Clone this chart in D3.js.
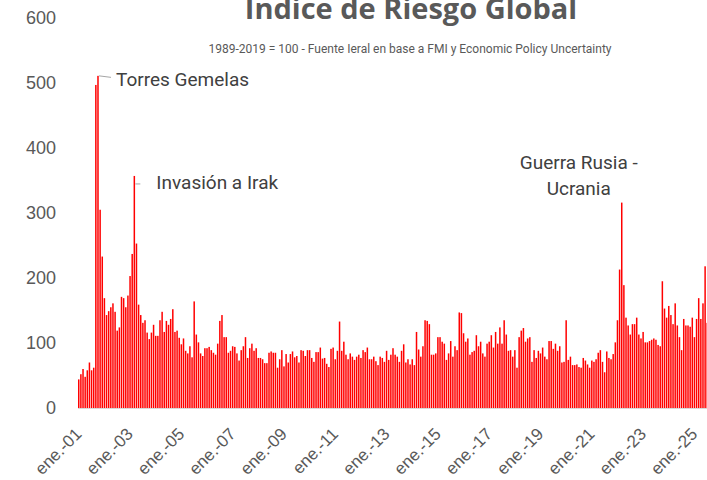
<!DOCTYPE html>
<html>
<head>
<meta charset="utf-8">
<script src="https://cdn.jsdelivr.net/npm/d3@7"></script>
<style>
body { margin: 0; background: #fff; }
svg { display: block; }
</style>
</head>
<body>
<div id="chart"></div>
<script>
// monthly index, ene.-01 onwards (1989-2019 = 100)
var riskIndex = [
  44,52,60,48,58,70,58,62,497,511,
  305,233,169,143,149,155,161,148,119,124,
  171,169,155,173,203,237,357,253,159,143,
  131,135,116,106,116,128,111,111,135,148,
  117,134,128,137,152,117,119,108,98,107,
  88,84,95,78,164,113,101,84,80,92,
  92,94,89,85,82,99,134,143,109,109,
  85,88,95,94,84,73,89,95,109,77,
  92,99,88,92,77,77,75,69,69,85,
  87,85,85,62,75,89,64,83,70,83,
  87,78,80,70,89,
  88,80,89,89,77,71,86,86,93,76,
  77,68,63,91,93,75,88,133,88,102,
  82,75,84,79,74,79,82,77,89,86,
  93,75,75,79,72,66,79,77,71,88,
  74,82,92,82,79,71,88,98,70,75,
  67,75,66,117,90,79,95,135,134,129,
  82,82,84,
  109,109,102,99,74,84,103,79,95,89,
  147,146,115,102,107,82,86,88,112,95,
  102,84,79,99,102,112,93,117,99,124,
  99,135,113,88,89,79,89,62,109,119,
  123,102,107,109,71,89,77,88,84,93,
  79,75,103,103,91,99,88,95,70,71,
  135,74,79,
  66,66,67,63,62,77,73,67,62,73,
  71,75,85,89,71,55,87,77,75,83,
  101,135,213,316,189,139,127,113,129,129,
  139,113,107,117,101,101,103,105,107,105,
  97,95,195,153,139,157,143,129,161,127,
  109,89,137,127,127,125,139,109,137,169,
  137,161,218,131
];

var tickLabels = ["ene.-01","ene.-03","ene.-05","ene.-07","ene.-09","ene.-11","ene.-13",
                  "ene.-15","ene.-17","ene.-19","ene.-21","ene.-23","ene.-25"];
var yTicks = [0, 100, 200, 300, 400, 500, 600];

// month index -> event label
var eventMonths = [9, 26, 254];
var eventLabels = [["Torres Gemelas"], ["Invasión a Irak"], ["Guerra Rusia -", "Ucrania"]];

var title = "Indice de Riesgo Global",
    subtitle = "1989-2019 = 100 - Fuente Ieral en base a FMI y Economic Policy Uncertainty";

var svg = d3.select("#chart").append("svg")
    .attr("width", 707)
    .attr("height", 480);

var x = d3.scaleBand()
    .domain(d3.range(riskIndex.length))
    .range([78, 708])
    .paddingInner(0.3)
    .paddingOuter(0);

var y = d3.scaleLinear().domain([0, 600]).range([408, 18]);

var grey = "#595959";

svg.append("text")
    .attr("x", 411).attr("y", 19)
    .attr("text-anchor", "middle")
    .attr("font-family", "'Open Sans', sans-serif")
    .attr("font-weight", "bold")
    .attr("font-size", 29)
    .attr("fill", grey)
    .text(title);

svg.append("text")
    .attr("x", 410).attr("y", 53)
    .attr("text-anchor", "middle")
    .attr("font-family", "Roboto, sans-serif")
    .attr("font-size", 12)
    .attr("fill", grey)
    .text(subtitle);

// bars
svg.append("g").selectAll("rect")
    .data(riskIndex)
  .enter().append("rect")
    .attr("x", function(d, i) { return x(i); })
    .attr("width", x.bandwidth())
    .attr("y", function(d) { return y(d); })
    .attr("height", function(d) { return y(0) - y(d); })
    .attr("fill", "#ff0000");

// base line
svg.append("line")
    .attr("x1", x.range()[0]).attr("x2", x.range()[1])
    .attr("y1", y(0) + 0.5).attr("y2", y(0) + 0.5)
    .attr("stroke", "#d9d9d9");

var xAxis = d3.axisBottom(x)
    .tickValues(d3.range(0, riskIndex.length, 24))
    .tickFormat(function(i) { return tickLabels[i / 24]; })
    .tickSize(0);

var gx = svg.append("g")
    .attr("transform", "translate(0," + y(0) + ")")
    .call(xAxis);
gx.select(".domain").remove();
gx.attr("font-family", "'Liberation Sans', Arial, sans-serif").attr("font-size", 17);
gx.selectAll("text")
    .attr("fill", grey)
    .attr("y", null).attr("dy", null)
    .attr("text-anchor", "end")
    .attr("transform", "translate(4,27) rotate(-45)");

var yAxis = d3.axisLeft(y)
    .tickValues(yTicks)
    .tickSize(0)
    .tickPadding(0);

var gy = svg.append("g")
    .attr("transform", "translate(56,0)")
    .call(yAxis);
gy.select(".domain").remove();
gy.attr("font-family", "'Liberation Sans', Arial, sans-serif").attr("font-size", 18);
gy.selectAll("text").attr("fill", grey);

// annotations
var notes = svg.append("g")
    .attr("font-family", "Roboto, sans-serif")
    .attr("font-size", 19)
    .attr("fill", "#404040");

function cx(i) { return x(i) + x.bandwidth() / 2; }

// Torres Gemelas
var t0 = eventMonths[0];
notes.append("line")
    .attr("x1", cx(t0) + 1).attr("y1", y(riskIndex[t0]))
    .attr("x2", cx(t0) + 13).attr("y2", y(riskIndex[t0]) + 1.5)
    .attr("stroke", "#a6a6a6");
notes.append("text")
    .attr("x", cx(t0) + 18).attr("y", y(riskIndex[t0]) + 10)
    .text(eventLabels[0][0]);

// Invasión a Irak
var t1 = eventMonths[1];
notes.append("line")
    .attr("x1", cx(t1) + 1).attr("y1", y(riskIndex[t1]) + 8)
    .attr("x2", cx(t1) + 6).attr("y2", y(riskIndex[t1]) + 8)
    .attr("stroke", "#a6a6a6");
notes.append("text")
    .attr("x", cx(t1) + 22).attr("y", y(riskIndex[t1]) + 13)
    .text(eventLabels[1][0]);

// Guerra Rusia - Ucrania
var t2 = eventMonths[2];
notes.append("text")
    .attr("text-anchor", "middle")
    .attr("x", cx(t2) - 43).attr("y", y(riskIndex[t2]) - 34)
    .text(eventLabels[2][0]);
notes.append("text")
    .attr("text-anchor", "middle")
    .attr("x", cx(t2) - 43).attr("y", y(riskIndex[t2]) - 8)
    .text(eventLabels[2][1]);
</script>
</body>
</html>
